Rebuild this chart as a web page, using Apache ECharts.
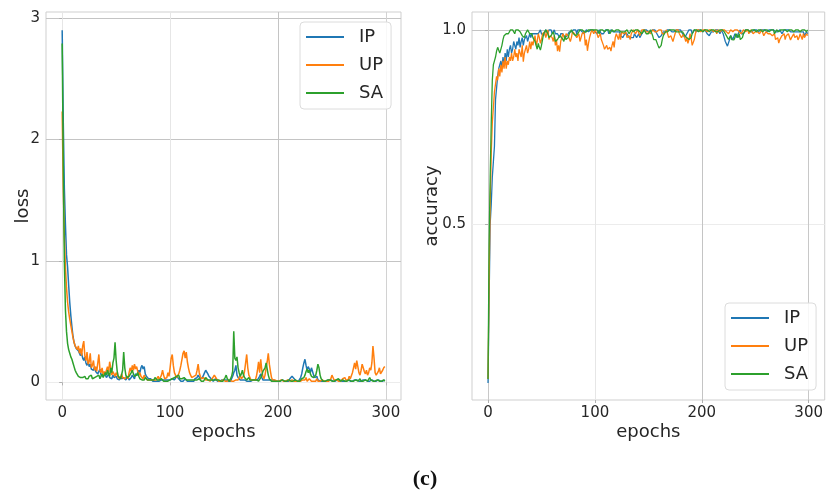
<!DOCTYPE html>
<html>
<head>
<meta charset="utf-8">
<script src="https://cdn.jsdelivr.net/npm/echarts@6/dist/echarts.min.js"></script>
<style>
  html, body { margin: 0; padding: 0; background: #fff; }
  #chart { width: 826px; height: 493px; }
</style>
</head>
<body>
<div id="chart"></div>
<script>
// Training curves over 300 epochs for three datasets: loss (left) and accuracy (right)
const seriesNames = ['IP', 'UP', 'SA'];
const seriesColors = ['#1f77b4', '#ff7f0e', '#2ca02c'];

const lossIP = [
  2.9, 2.15, 1.6, 1.3, 1.05, .95, .8, .66, .55, .46, .38, .33, .3, .28, .27, .26, .25, .22, .24, .2,
  .18, .21, .16, .14, .17, .13, .15, .11, .12, .1, .13, .09, .1, .07, .08, .11, .06, .07, .05, .08,
  .06, .04, .05, .07, .04, .05, .03, .06, .04, .03, .05, .03, .04, .02, .05, .03, .02, .04, .03, .02,
  .03, .05, .02, .03, .04, .06, .05, .03, .07, .08, .06, .1, .08, .12, .14, .11, .13, .07, .05, .04,
  .03, .02, .03, .02, .01, .02, .01, .02, .01, .02, .01, .01, .02, .01, .02, .03, .02, .01, .02, .01,
  .02, .01, .03, .04, .02, .03, .05, .04, .03, .02, .01, .02, .01, .02, .03, .02, .01, .02, .01, .02,
  .01, .02, .01, .03, .02, .04, .06, .05, .03, .02, .04, .06, .08, .1, .09, .07, .05, .04, .03, .02,
  .01, .02, .03, .02, .01, .02, .01, .01, .02, .01, .02, .01, .02, .03, .01, .02, .01, .02, .05, .08,
  .1, .14, .06, .04, .03, .02, .01, .02, .01, .02, .01, .01, .02, .01, .02, .01, .01, .02, .01, .02,
  .01, .02, .03, .05, .07, .04, .02, .01, .02, .01, .02, .03, .02, .01, .02, .01, .02, .01, .01, .02,
  .01, .02, .01, .01, .02, .01, .01, .02, .01, .02, .01, .03, .02, .05, .06, .03, .02, .01, .02, .01,
  .02, .04, .07, .12, .16, .19, .14, .1, .13, .11, .08, .12, .09, .06, .04, .03, .05, .02, .03, .01,
  .02, .01, .02, .01, .02, .01, .01, .02, .01, .02, .01, .01, .02, .01, .01, .02, .01, .02, .01, .01,
  .02, .01, .02, .01, .01, .02, .03, .01, .02, .01, .01, .02, .01, .02, .01, .01, .02, .01, .01, .02,
  .01, .02, .01, .01, .02, .01, .01, .02, .01, .01, .02, .01, .01, .02, .01, .01, .02, .01, .01, .02
];
const lossUP = [
  2.23, 1.6, 1.2, .95, .78, .66, .58, .52, .47, .42, .37, .33, .3, .31, .27, .3, .24, .28, .22, .3,
  .34, .22, .18, .25, .15, .17, .24, .12, .14, .18, .1, .13, .09, .16, .23, .1, .08, .12, .06, .09,
  .07, .1, .13, .08, .17, .12, .06, .09, .07, .05, .08, .06, .04, .05, .03, .07, .04, .05, .03, .04,
  .05, .03, .08, .12, .09, .14, .1, .15, .11, .13, .09, .06, .08, .05, .04, .03, .06, .04, .03, .02,
  .03, .02, .01, .02, .03, .02, .01, .02, .03, .05, .02, .04, .06, .1, .06, .03, .02, .04, .08, .05,
  .12, .2, .23, .14, .08, .06, .04, .05, .07, .1, .14, .19, .24, .26, .2, .25, .17, .12, .08, .06,
  .04, .03, .05, .04, .06, .1, .15, .08, .05, .03, .02, .04, .03, .02, .01, .02, .03, .01, .02, .03,
  .04, .06, .07, .03, .02, .01, .02, .01, .01, .02, .01, .01, .02, .01, .01, .02, .01, .01, .02, .01,
  .01, .02, .01, .02, .04, .06, .03, .02, .05, .09, .16, .23, .12, .06, .04, .02, .03, .02, .01, .02,
  .05, .1, .17, .08, .19, .1, .05, .03, .06, .12, .17, .24, .15, .09, .04, .02, .01, .02, .01, .01,
  .02, .01, .01, .02, .01, .01, .02, .01, .01, .02, .01, .01, .01, .02, .01, .01, .02, .01, .01, .01,
  .02, .01, .01, .02, .03, .02, .04, .01, .02, .03, .02, .01, .02, .01, .02, .01, .03, .01, .02, .01,
  .01, .02, .01, .01, .02, .01, .02, .01, .01, .03, .06, .04, .02, .01, .02, .01, .01, .02, .01, .02,
  .03, .02, .04, .02, .03, .02, .05, .03, .04, .08, .12, .16, .11, .18, .13, .08, .06, .1, .15, .12,
  .09, .07, .1, .06, .08, .12, .1, .16, .3, .2, .08, .06, .05, .09, .12, .07, .06, .1, .12, .13
];
const lossSA = [
  2.79, 1.8, 1.0, .6, .42, .32, .27, .24, .21, .19, .16, .13, .1, .08, .07, .05, .04, .04, .03, .04,
  .03, .05, .03, .02, .03, .05, .04, .06, .03, .02, .04, .03, .05, .04, .06, .03, .05, .07, .04, .05,
  .08, .06, .1, .07, .05, .12, .08, .16, .2, .33, .18, .09, .05, .04, .03, .06, .1, .25, .12, .06,
  .04, .03, .05, .06, .08, .1, .07, .05, .04, .06, .08, .05, .03, .04, .02, .03, .02, .04, .03, .02,
  .01, .02, .03, .02, .01, .02, .04, .03, .02, .01, .02, .01, .03, .02, .01, .02, .01, .02, .01, .01,
  .02, .01, .03, .02, .04, .03, .05, .04, .06, .03, .02, .03, .02, .04, .03, .02, .01, .02, .01, .02,
  .01, .02, .03, .02, .01, .02, .01, .03, .02, .01, .02, .01, .02, .04, .03, .02, .01, .02, .01, .02,
  .01, .02, .01, .02, .01, .02, .03, .01, .02, .01, .02, .04, .06, .03, .02, .01, .03, .05, .09, .42,
  .2, .18, .21, .12, .08, .05, .07, .1, .06, .04, .03, .02, .03, .04, .02, .03, .02, .01, .02, .01,
  .02, .03, .01, .02, .04, .06, .09, .08, .12, .16, .11, .06, .03, .02, .01, .02, .01, .02, .01, .02,
  .01, .02, .01, .01, .02, .01, .01, .02, .01, .01, .02, .01, .01, .02, .01, .01, .02, .01, .01, .02,
  .01, .02, .03, .02, .04, .06, .09, .11, .08, .1, .07, .05, .06, .04, .03, .06, .1, .15, .12, .06,
  .03, .02, .01, .02, .01, .01, .02, .01, .02, .01, .01, .02, .01, .01, .02, .01, .03, .02, .01, .01,
  .02, .01, .01, .02, .01, .01, .02, .01, .01, .02, .01, .01, .02, .01, .01, .02, .03, .01, .02, .01,
  .01, .02, .01, .01, .02, .04, .02, .01, .01, .02, .01, .01, .02, .01, .01, .02, .01, .01, .02, .01
];

const accIP = [
  .09, .3, .5, .55, .62, .66, .7, .82, .85, .88, .9, .91, .92, .9, .93, .91, .94, .92, .95, .93,
  .95, .96, .94, .95, .97, .96, .95, .97, .96, .98, .955, .97, .98, .96, .975, .97, .985, .97, .98, .99,
  .98, .99, .985, .99, .995, .99, .985, .99, .995, 1, .99, .995, .985, .99, 1, .995, .99, 1, .995, 1,
  .99, .995, 1, .99, .985, .99, .995, .98, .99, .985, .99, .995, .98, .975, .985, .99, .995, 1, .995, .99,
  1, .995, 1, .99, 1, .995, 1, 1, .995, 1, .99, .995, 1, 1, .995, 1, 1, .995, 1, 1,
  .995, 1, .99, .995, 1, .995, .99, .985, .99, .995, 1, .995, 1, .99, .995, 1, 1, .995, 1, .995,
  1, .995, .99, .995, .985, .99, .98, .985, .99, .995, .99, .985, .98, .975, .98, .985, .98, .99, .985, .98,
  .985, .99, .98, .985, .99, .995, 1, .995, 1, 1, .995, 1, .995, 1, 1, .995, 1, .995, .99, .985,
  .98, .975, .985, .99, .995, 1, .995, 1, 1, .995, 1, 1, .995, 1, .995, 1, 1, .995, 1, .995,
  1, .995, .99, .985, .98, .985, .99, .995, 1, .995, 1, .99, .995, 1, 1, .995, 1, 1, .995, 1,
  1, .995, 1, 1, .995, .99, .995, .985, .99, .995, 1, .995, 1, 1, .995, 1, .995, .99, 1, .995,
  .99, .98, .97, .965, .958, .96, .975, .985, .98, .975, .98, .99, .985, .98, .99, .995, 1, .99, .985, .99,
  .995, 1, .995, 1, 1, .995, 1, .995, 1, 1, .995, 1, 1, .995, 1, 1, .995, 1, .995, 1,
  1, .995, 1, 1, .995, 1, .995, 1, 1, .995, 1, .995, 1, 1, .995, .99, .995, 1, .995, 1,
  .995, 1, 1, .995, .99, .995, 1, .995, 1, .995, .99, .995, 1, .995, .99, .995, .985, .99, .995, .99
];
const accUP = [
  .1, .35, .55, .68, .76, .8, .84, .86, .88, .87, .9, .88, .91, .89, .92, .9, .93, .9, .92, .91,
  .93, .92, .94, .92, .93, .95, .93, .94, .92, .95, .94, .93, .96, .918, .94, .95, .96, .94, .95, .97,
  .95, .97, .96, .975, .985, .96, .97, .99, .98, .965, .975, .99, .985, .995, .98, .99, 1, .975, .985, .99,
  .98, .97, .985, .96, .975, .945, .96, .944, .97, .98, .99, .985, .975, .99, .995, .985, .99, .97, .98, .995,
  1, .99, .995, .98, .985, .99, .97, .975, .99, .985, .995, .96, .975, .946, .965, .98, .99, 1, .995, .99,
  1, .995, .99, .98, .985, .99, .975, .97, .96, .95, .945, .96, .95, .948, .955, .945, .96, .97, .955, .98,
  .99, .985, .975, .99, .975, .995, 1, .99, .985, .995, .98, .975, .985, .975, .99, .995, 1, .995, .99, .995,
  1, .995, .985, .99, 1, .995, 1, 1, .995, 1, .995, 1, .99, .995, 1, 1, .995, 1, .995, 1,
  1, .995, 1, .99, .985, .99, .995, 1, .99, .98, .975, .985, .99, .97, .98, .99, 1, .995, 1, .99,
  .995, .98, .975, .99, .985, .97, .98, .965, .975, .99, .98, .96, .955, .975, .99, 1, .995, 1, 1, .995,
  1, 1, .995, 1, 1, .995, 1, 1, .995, 1, 1, .995, 1, 1, .99, 1, 1, .995, 1, 1,
  .995, 1, 1, .995, 1, .99, .995, 1, 1, .995, .99, 1, .995, 1, 1, .995, 1, .99, .995, 1,
  1, .995, 1, 1, .99, .995, 1, .995, .99, .985, .995, 1, .995, 1, .99, .995, 1, .995, .985, .99,
  .995, 1, .99, .985, .99, .995, .985, .98, .99, .975, .97, .98, .966, .975, .97, .985, .98, .99, .975, .985,
  .98, .99, .985, .974, .98, .985, .99, .98, .975, .985, .974, .98, .99, .985, .975, .99, .98, .985, .99, .985
];
const accSA = [
  .1, .45, .62, .76, .87, .91, .92, .93, .945, .955, .95, .94, .94, .96, .975, .985, .99, .99, .995, .99,
  .995, 1, .995, 1, .995, .99, 1, .995, 1, 1, .995, .99, .985, .99, .98, .99, .995, 1, .995, .99,
  .985, .99, .98, .985, .97, .96, .95, .965, .955, .948, .96, .975, .99, .995, 1, .995, .99, .98, .975, .985,
  .99, .995, .985, .97, .966, .975, .98, .985, .99, .98, .975, .97, .985, .975, .97, .98, .99, .995, 1, .995,
  .99, .995, .985, .98, .99, .995, 1, .995, 1, 1, .995, 1, .995, 1, 1, .995, 1, .995, 1, 1,
  1, .995, 1, .995, .99, 1, .995, 1, 1, .995, 1, 1, .995, 1, .99, .995, 1, 1, .995, 1,
  1, .995, 1, 1, .995, .99, .995, 1, .995, 1, 1, .995, .99, .995, 1, 1, .995, 1, 1, .995,
  1, 1, .995, 1, .99, .995, 1, .995, .99, .985, .99, .995, 1, .995, .985, .975, .98, .975, .97, .96,
  .953, .955, .96, .975, .985, .99, .995, 1, .995, 1, 1, .995, 1, .995, 1, 1, .995, .99, .995, 1,
  .995, 1, .995, .99, .985, .99, .98, .985, .975, .97, .98, .99, .995, 1, .995, 1, 1, .995, 1, 1,
  1, .995, 1, 1, .995, 1, 1, .995, 1, 1, .995, 1, 1, .995, 1, .995, .99, 1, .995, 1,
  1, .995, .99, .985, .98, .975, .98, .985, .975, .97, .974, .98, .99, .985, .98, .99, .975, .97, .98, .99,
  .995, 1, .995, 1, 1, .995, 1, 1, .995, 1, 1, .995, 1, 1, .995, 1, 1, .995, 1, 1,
  .995, 1, 1, .995, 1, 1, .995, 1, .99, .995, 1, 1, .995, 1, 1, .995, 1, .995, 1, 1,
  .995, 1, 1, .995, 1, 1, .995, 1, 1, .995, 1, 1, .995, 1, 1, .995, 1, 1, .995, 1
];

const lossSeries = [lossIP, lossUP, lossSA];
const accSeries = [accIP, accUP, accSA];

const FONT = 'DejaVu Sans';
const TEXT = '#262626';
const pairs = arr => arr.map((v, i) => [i, v]);

function labelStyle(formatter) {
  const s = { fontFamily: FONT, fontSize: 15, color: TEXT, margin: 6, showMinLabel: false, showMaxLabel: false };
  if (formatter) s.formatter = formatter;
  return s;
}

function axisCommon(extra) {
  return Object.assign({
    type: 'value',
    axisLine: { show: false },
    axisTick: { show: true, length: 3, lineStyle: { color: '#b0b0b0' } },
    axisLabel: labelStyle(),
    nameTextStyle: { fontFamily: FONT, fontSize: 18, color: TEXT },
    nameLocation: 'middle',
    nameMoveOverlap: false
  }, extra);
}

function legendFor(left, top) {
  return {
    orient: 'vertical',
    left: left, top: top,
    data: seriesNames.map(n => ({ name: n })),
    icon: 'rect',
    itemWidth: 38, itemHeight: 2,
    itemGap: 10,
    padding: [6, 8, 7, 6],
    borderColor: '#dcdcdc', borderWidth: 1, borderRadius: 4,
    backgroundColor: 'rgba(255,255,255,0.85)',
    textStyle: { fontFamily: FONT, fontSize: 18, color: TEXT, lineHeight: 18, padding: [0, 0, 0, 10] },
    selectedMode: false
  };
}

const chart = echarts.init(document.getElementById('chart'), null, { renderer: 'canvas' });

const series = [];
seriesNames.forEach((name, i) => {
  series.push({
    name: name, type: 'line', xAxisIndex: 0, yAxisIndex: 0,
    data: pairs(lossSeries[i]), showSymbol: false, symbol: 'none',
    lineStyle: { color: seriesColors[i], width: 1.5 }, itemStyle: { color: seriesColors[i] },
    animation: false, z: 2 + i
  });
});
seriesNames.forEach((name, i) => {
  series.push({
    name: name, type: 'line', xAxisIndex: 1, yAxisIndex: 1,
    data: pairs(accSeries[i]), showSymbol: false, symbol: 'none',
    lineStyle: { color: seriesColors[i], width: 1.3 }, itemStyle: { color: seriesColors[i] },
    animation: false, z: 2 + i
  });
});

const option = {
  backgroundColor: '#fff',
  animation: false,
  grid: [
    { left: 46, top: 12, width: 355, height: 388, show: true, borderColor: '#cfcfcf', borderWidth: 1, containLabel: false },
    { left: 472, top: 12, width: 356, height: 388, show: true, borderColor: '#cfcfcf', borderWidth: 1, containLabel: false }
  ],
  xAxis: [
    axisCommon({
      gridIndex: 0, min: -15, max: 314, minInterval: 100, maxInterval: 100,
      name: 'epochs', nameGap: 23,
      splitLine: { show: true, showMinLine: false, showMaxLine: false,
        lineStyle: { color: ['#e6e6e6', '#e6e6e6', '#c4c4c4', '#d2d2d2'], width: 1 } }
    }),
    axisCommon({
      gridIndex: 1, min: -15, max: 315, minInterval: 100, maxInterval: 100,
      name: 'epochs', nameGap: 23,
      splitLine: { show: true, showMinLine: false, showMaxLine: false,
        lineStyle: { color: ['#c8c8c8', '#e6e6e6', '#c4c4c4', '#c8c8c8'], width: 1 } }
    })
  ],
  yAxis: [
    axisCommon({
      gridIndex: 0, min: -0.145, max: 3.05, minInterval: 1, maxInterval: 1,
      name: 'loss', nameGap: 14,
      splitLine: { show: true, showMinLine: false, showMaxLine: false,
        lineStyle: { color: ['#ececec', '#c4c4c4', '#c4c4c4', '#c4c4c4'], width: 1 } }
    }),
    axisCommon({
      gridIndex: 1, min: 0.046, max: 1.046, minInterval: 0.5, maxInterval: 0.5,
      name: 'accuracy', nameGap: 31,
      axisLabel: labelStyle(v => v.toFixed(1)),
      splitLine: { show: true, showMinLine: false, showMaxLine: false,
        lineStyle: { color: ['#ececec', '#c4c4c4'], width: 1 } }
    })
  ],
  legend: [
    legendFor(300, 22),
    legendFor(725, 303)
  ],
  title: {
    text: '(c)', left: 420, top: 463, textAlign: 'center',
    textStyle: { fontFamily: 'Liberation Serif', fontWeight: 'bold', fontSize: 22, color: '#111' }
  },
  series: series
};

chart.setOption(option);
</script>
</body>
</html>
